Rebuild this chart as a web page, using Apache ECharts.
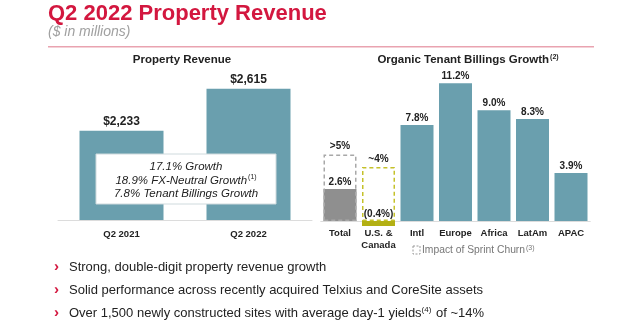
<!DOCTYPE html>
<html><head><meta charset="utf-8">
<script src="https://cdn.jsdelivr.net/npm/echarts@6/dist/echarts.min.js"></script>
<style>html,body{margin:0;padding:0;background:#fff}#c{width:640px;height:327px}</style>
</head><body><div id="c"></div>
<script>
// ---- data ----
const revCategories = ['Q2 2021', 'Q2 2022'];
const revValues = [2233, 2615];
const growthCategories = ['Total', 'U.S. &\nCanada', 'Intl', 'Europe', 'Africa', 'LatAm', 'APAC'];
const growthValues = [2.6, -0.4, 7.8, 11.2, 9.0, 8.3, 3.9];
const sprintValues = [5.4, 4.4, '-', '-', '-', '-', '-'];
const sprintLabels = ['>5%', '~4%'];
const boxLines = ['17.1% Growth', '18.9% FX-Neutral Growth', '7.8% Tenant Billings Growth'];
const bullets = [
  'Strong, double-digit property revenue growth',
  'Solid performance across recently acquired Telxius and CoreSite assets',
  'Over 1,500 newly constructed sites with average day-1 yields'
];

const F = '"Liberation Sans", Arial, sans-serif';
const TEAL = '#6a9fae';
const chart = echarts.init(document.getElementById('c'), null, {renderer: 'canvas'});

const itemColors = ['#8f8f8f', '#b3b014', TEAL, TEAL, TEAL, TEAL, TEAL];
const sprintBorders = ['#a8a8a8', '#c5c12a'];

chart.setOption({
  animation: false,
  grid: [
    {left: 58, width: 254, top: 80, bottom: 107},
    {left: 320.75, width: 269.5, top: 79.55, bottom: 93.7}
  ],
  xAxis: [
    {gridIndex: 0, type: 'category', data: revCategories,
     axisLine: {lineStyle: {color: '#dcdcdc'}}, axisTick: {show: false},
     axisLabel: {margin: 9, fontFamily: F, fontWeight: 'bold', fontSize: 9.5, color: '#222'}},
    {gridIndex: 1, type: 'category', data: growthCategories,
     axisLine: {onZero: true, lineStyle: {color: '#dcdcdc'}}, axisTick: {show: false},
     axisLabel: {margin: -6.3, fontFamily: F, fontWeight: 'bold', fontSize: 9.5, color: '#222', lineHeight: 12, interval: 0}}
  ],
  yAxis: [
    {gridIndex: 0, type: 'value', min: 1420, max: 2695, show: false, splitLine: {show: false}},
    {gridIndex: 1, type: 'value', min: -1, max: 11.5, show: false, splitLine: {show: false}}
  ],
  series: [
    {type: 'bar', xAxisIndex: 0, yAxisIndex: 0, data: revValues, barWidth: 84,
     itemStyle: {color: TEAL},
     label: {show: true, position: 'top', distance: 3, fontFamily: F, fontWeight: 'bold', fontSize: 12, color: '#222',
       formatter: p => '$' + p.value.toLocaleString('en-US')}},
    {type: 'bar', xAxisIndex: 1, yAxisIndex: 1, barWidth: 33, barGap: '-100%',
     data: growthValues.map((v, i) => ({value: v, itemStyle: {color: itemColors[i]}})),
     label: {show: true, position: 'top', distance: 2, fontFamily: F, fontWeight: 'bold', fontSize: 10, color: '#222',
       formatter: p => p.value < 0 ? '(' + Math.abs(p.value).toFixed(1) + '%)' : p.value.toFixed(1) + '%'}},
    {type: 'bar', xAxisIndex: 1, yAxisIndex: 1, barWidth: 33, barGap: '-100%',
     data: sprintValues.map((v, i) => ({value: v, itemStyle: {color: 'rgba(0,0,0,0)', borderColor: sprintBorders[i] || '#aaa', borderWidth: 1.5, borderType: [4, 3]}})),
     label: {show: true, position: 'top', distance: 3, fontFamily: F, fontWeight: 'bold', fontSize: 10, color: '#222',
       formatter: p => sprintLabels[p.dataIndex] || ''}}
  ],
  graphic: [
    {type: 'text', left: 48, top: 3, style: {text: 'Q2 2022 Property Revenue', font: 'bold 22px ' + F, fill: '#d3173f'}},
    {type: 'text', left: 48, top: 25, style: {text: '($ in millions)', font: 'italic 14px ' + F, fill: '#a0a0a0'}},
    {type: 'rect', shape: {x: 48, y: 46, width: 546, height: 1.5}, style: {fill: '#e9a3b0'}},
    {type: 'text', x: 182, y: 60, style: {text: 'Property Revenue', font: 'bold 11.5px ' + F, fill: '#222', align: 'center', verticalAlign: 'middle'}},
    {type: 'text', x: 468, y: 60, style: {
      text: '{a|Organic Tenant Billings Growth}{s|(2)}', align: 'center', verticalAlign: 'middle',
      rich: {a: {font: 'bold 11.5px ' + F, fill: '#222'}, s: {font: 'bold 7px ' + F, fill: '#222', padding: [0, 0, 6, 1]}}}},
    {type: 'rect', z: 10, shape: {x: 96, y: 154, width: 180, height: 50}, style: {fill: '#fff', stroke: '#cfdadd', lineWidth: 1}},
    {type: 'text', z: 11, x: 186, y: 167, style: {text: boxLines[0], font: 'italic 11.5px ' + F, fill: '#222', align: 'center', verticalAlign: 'middle'}},
    {type: 'text', z: 11, x: 186, y: 180.5, style: {
      text: '{a|' + boxLines[1] + '}{s|(1)}', align: 'center', verticalAlign: 'middle',
      rich: {a: {font: 'italic 11.5px ' + F, fill: '#222'}, s: {font: '7px ' + F, fill: '#222', padding: [0, 0, 6, 1]}}}},
    {type: 'text', z: 11, x: 186, y: 194, style: {text: boxLines[2], font: 'italic 11.5px ' + F, fill: '#222', align: 'center', verticalAlign: 'middle'}},
    {type: 'rect', shape: {x: 413, y: 246, width: 7, height: 8}, style: {fill: 'none', stroke: '#999', lineWidth: 1, lineDash: [2, 1.5]}},
    {type: 'text', x: 422, y: 250.5, style: {
      text: '{a|Impact of Sprint Churn}{s|(3)}', verticalAlign: 'middle',
      rich: {a: {font: '10.3px ' + F, fill: '#777'}, s: {font: '7px ' + F, fill: '#777', padding: [0, 0, 5, 1]}}}},
    {type: 'text', x: 54, y: 267, style: {text: '›', font: 'bold 15px ' + F, fill: '#d3173f', verticalAlign: 'middle'}},
    {type: 'text', x: 69, y: 267, style: {text: bullets[0], font: '13px ' + F, fill: '#222', verticalAlign: 'middle'}},
    {type: 'text', x: 54, y: 290, style: {text: '›', font: 'bold 15px ' + F, fill: '#d3173f', verticalAlign: 'middle'}},
    {type: 'text', x: 69, y: 290, style: {text: bullets[1], font: '13px ' + F, fill: '#222', verticalAlign: 'middle'}},
    {type: 'text', x: 54, y: 313, style: {text: '›', font: 'bold 15px ' + F, fill: '#d3173f', verticalAlign: 'middle'}},
    {type: 'text', x: 69, y: 313, style: {
      text: '{a|' + bullets[2] + '}{s|(4)}{a| of ~14%}', verticalAlign: 'middle',
      rich: {a: {font: '13px ' + F, fill: '#222'}, s: {font: '8px ' + F, fill: '#222', padding: [0, 1, 7, 0]}}}}
  ]
});
</script></body></html>
